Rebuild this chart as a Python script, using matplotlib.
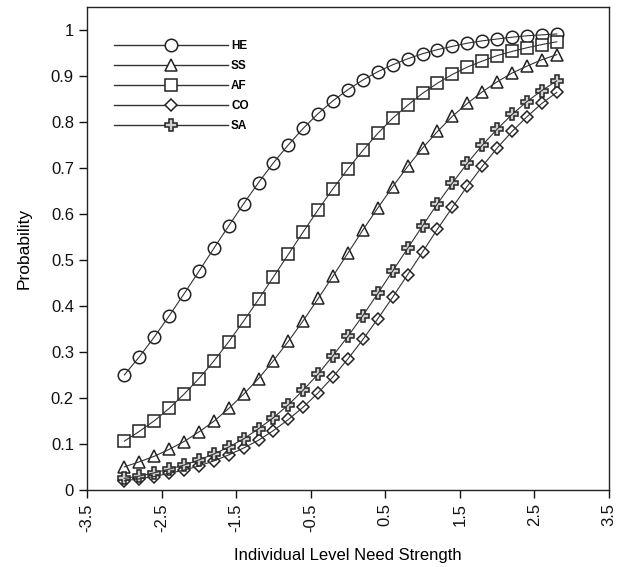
import numpy as np
import matplotlib.pyplot as plt
from matplotlib.lines import Line2D

plt.rcParams['font.family'] = ['Liberation Sans', 'DejaVu Sans']

# need strength values (x) and predicted probabilities per category
x = [-3.0, -2.8, -2.6, -2.4, -2.2, -2.0, -1.8, -1.6, -1.4, -1.2,
     -1.0, -0.8, -0.6, -0.4, -0.2, 0.0, 0.2, 0.4, 0.6, 0.8,
     1.0, 1.2, 1.4, 1.6, 1.8, 2.0, 2.2, 2.4, 2.6, 2.8]

he = [0.250, 0.289, 0.332, 0.378, 0.426, 0.475, 0.525, 0.574, 0.622, 0.668,
      0.711, 0.750, 0.786, 0.818, 0.846, 0.870, 0.891, 0.909, 0.924, 0.937,
      0.948, 0.957, 0.964, 0.971, 0.976, 0.980, 0.984, 0.987, 0.989, 0.991]
ss = [0.050, 0.061, 0.073, 0.088, 0.105, 0.126, 0.149, 0.177, 0.208, 0.242,
      0.281, 0.323, 0.368, 0.416, 0.465, 0.515, 0.565, 0.613, 0.659, 0.703,
      0.743, 0.779, 0.812, 0.840, 0.865, 0.887, 0.906, 0.921, 0.935, 0.946]
af = [0.106, 0.127, 0.150, 0.177, 0.208, 0.242, 0.280, 0.322, 0.367, 0.414,
      0.463, 0.512, 0.561, 0.609, 0.655, 0.698, 0.738, 0.775, 0.808, 0.836,
      0.862, 0.884, 0.903, 0.919, 0.932, 0.944, 0.953, 0.961, 0.968, 0.974]
co = [0.020, 0.024, 0.029, 0.036, 0.043, 0.052, 0.063, 0.076, 0.091, 0.108,
      0.129, 0.153, 0.180, 0.211, 0.246, 0.285, 0.327, 0.372, 0.419, 0.468,
      0.517, 0.567, 0.614, 0.660, 0.703, 0.743, 0.779, 0.811, 0.840, 0.864]
sa = [0.025, 0.030, 0.037, 0.045, 0.054, 0.065, 0.078, 0.093, 0.111, 0.133,
      0.157, 0.185, 0.217, 0.252, 0.292, 0.334, 0.379, 0.427, 0.476, 0.525,
      0.574, 0.622, 0.667, 0.710, 0.749, 0.784, 0.816, 0.844, 0.868, 0.889]

labels = ['HE', 'SS', 'AF', 'CO', 'SA']
series = [he, ss, af, co, sa]
markers = ['o', '^', 's', 'D', 'P']
msizes = [9, 9, 8.5, 6.3, 9]
mfaces = ['white', 'white', 'white', 'white', '#d0d0d0']

xticks = [-3.5, -2.5, -1.5, -0.5, 0.5, 1.5, 2.5, 3.5]
yticks = [0, 0.1, 0.2, 0.3, 0.4, 0.5, 0.6, 0.7, 0.8, 0.9, 1]
ytick_labels = ['0', '0.1', '0.2', '0.3', '0.4', '0.5', '0.6', '0.7', '0.8', '0.9', '1']

fig = plt.figure(figsize=(6.22, 5.67), dpi=100)
ax = fig.add_axes([0.14, 0.136, 0.839, 0.852])

handles = []
for y, lab, m, ms, fc in zip(series, labels, markers, msizes, mfaces):
    ax.plot(x, y, ls='none', marker=m, ms=ms, mfc=fc, mec='#222222', mew=1.1, zorder=2)
    ax.plot(x, y, color='#333333', lw=0.8, zorder=3)
    handles.append(Line2D([], [], color='#333333', lw=1.0, marker=m, ms=ms,
                          mfc=fc, mec='#222222', mew=1.1, label=lab))

ax.set_xlim(-3.5, 3.5)
ax.set_ylim(0, 1.05)
ax.set_xticks(xticks)
ax.set_xticklabels([str(t) for t in xticks], rotation=90)
ax.set_yticks(yticks)
ax.set_yticklabels(ytick_labels)
ax.tick_params(direction='out', length=6, width=1, labelsize=12, colors='#111111')
for s in ax.spines.values():
    s.set_linewidth(1.0)
    s.set_color('#222222')

ax.set_xlabel('Individual Level Need Strength', fontsize=12, labelpad=12)
ax.set_ylabel('Probability', fontsize=12.5, labelpad=14)

leg = ax.legend(handles=handles, loc='upper left', bbox_to_anchor=(0.052, 0.932),
                frameon=False, numpoints=1, handlelength=9.6, handletextpad=0.3,
                labelspacing=0.68, borderpad=0, borderaxespad=0,
                prop={'size': 8.5, 'weight': 'bold'})

fig.savefig('out.png', dpi=100)
